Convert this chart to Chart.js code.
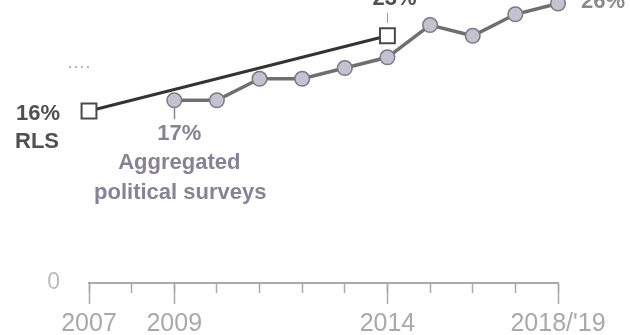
<!DOCTYPE html>
<html>
<head>
<meta charset="utf-8">
<script src="https://cdn.jsdelivr.net/npm/chart.js@4.4.1/dist/chart.umd.min.js"></script>
<style>
html,body{margin:0;padding:0;background:#fff;}
#wrap{width:630px;height:335px;position:relative;}
</style>
</head>
<body>
<div id="wrap"><canvas id="c" width="630" height="335"></canvas></div>
<script>
// ---- data ----
const years = [2007, 2008, 2009, 2010, 2011, 2012, 2013, 2014, 2015, 2016, 2017, 2018];
const tickLabelYears = [2007, 2009, 2014, 2018];
const tickLabelTexts = ['2007', '2009', '2014', "2018/'19"];
const rlsYears = [2007, 2014];
const rlsValues = [16, 23];
const aggYears = [2009, 2010, 2011, 2012, 2013, 2014, 2015, 2016, 2017, 2018];
const aggValues = [17, 17, 19, 19, 20, 21, 24, 23, 25, 26];
const yTickLabels = ['0'];

const FONT = "'Liberation Sans', Arial, sans-serif";
const AGG_TEXT = '#878294';
const RLS_TEXT = '#505050';

const annotations = {
  id: 'annotations',
  afterDraw(chart) {
    const ctx = chart.ctx;
    const x = chart.scales.x, y = chart.scales.y;
    const area = chart.chartArea;
    ctx.save();
    // longer ticks for labelled years
    ctx.strokeStyle = '#aaaaaa';
    ctx.lineWidth = 1.5;
    tickLabelYears.forEach(yr => {
      const px = Math.round(x.getPixelForValue(yr)) + 0.5;
      ctx.beginPath();
      ctx.moveTo(px, area.bottom);
      ctx.lineTo(px, area.bottom + 21);
      ctx.stroke();
    });

    ctx.textAlign = 'center';
    ctx.textBaseline = 'middle';
    ctx.font = 'bold 22px ' + FONT;

    // RLS labels
    const r0y = y.getPixelForValue(rlsValues[0]);
    ctx.fillStyle = RLS_TEXT;
    ctx.textAlign = 'left';
    ctx.fillText(rlsValues[0] + '%', 16, r0y + 3);
    ctx.fillText('RLS', 15, r0y + 31);

    ctx.textAlign = 'center';
    const r1x = x.getPixelForValue(rlsYears[1]);
    const r1y = y.getPixelForValue(rlsValues[1]);
    ctx.fillText(rlsValues[1] + '%', r1x + 7, r1y - 37);
    ctx.strokeStyle = '#999999';
    ctx.lineWidth = 1;
    ctx.beginPath();
    ctx.moveTo(Math.round(r1x) + 0.5, r1y - 23);
    ctx.lineTo(Math.round(r1x) + 0.5, r1y - 13);
    ctx.stroke();

    // Aggregated labels
    const a0x = x.getPixelForValue(aggYears[0]);
    const a0y = y.getPixelForValue(aggValues[0]);
    ctx.fillStyle = AGG_TEXT;
    ctx.fillText(aggValues[0] + '%', a0x + 5, a0y + 34);
    ctx.font = 'bold 22px ' + FONT;
    ctx.fillText('Aggregated', a0x + 5, a0y + 63);
    ctx.fillText('political surveys', a0x + 6, a0y + 93);
    ctx.strokeStyle = AGG_TEXT;
    ctx.lineWidth = 1.5;
    ctx.beginPath();
    ctx.moveTo(Math.round(a0x) + 0.5, a0y + 7);
    ctx.lineTo(Math.round(a0x) + 0.5, a0y + 19);
    ctx.stroke();

    const aLx = x.getPixelForValue(aggYears[aggYears.length - 1]);
    const aLy = y.getPixelForValue(aggValues[aggValues.length - 1]);
    ctx.font = 'bold 22px ' + FONT;
    ctx.fillStyle = '#8a8a8a';
    ctx.fillText(aggValues[aggValues.length - 1] + '%', aLx + 45, aLy - 2);

    // small dotted mark
    ctx.fillStyle = '#b5b5b5';
    for (let i = 0; i < 4; i++) {
      ctx.fillRect(69 + i * 6, 66, 2, 2);
    }
    ctx.restore();
  }
};

new Chart(document.getElementById('c'), {
  type: 'line',
  data: {
    datasets: [
      {
        label: 'RLS',
        data: rlsYears.map((yr, i) => ({x: yr, y: rlsValues[i]})),
        borderColor: '#333333',
        borderWidth: 3,
        pointStyle: 'rect',
        pointRadius: 10.5,
        pointBackgroundColor: '#ffffff',
        pointBorderColor: '#4a4a4a',
        pointBorderWidth: 2,
        clip: false,
        order: 0
      },
      {
        label: 'Aggregated political surveys',
        data: aggYears.map((yr, i) => ({x: yr, y: aggValues[i]})),
        borderColor: '#6f6f6f',
        borderWidth: 3.5,
        pointStyle: 'circle',
        pointRadius: 7.3,
        pointBackgroundColor: '#c4c2ce',
        pointBorderColor: '#7c7987',
        pointBorderWidth: 1.5,
        clip: false,
        order: 1
      }
    ]
  },
  options: {
    responsive: false,
    devicePixelRatio: 1,
    animation: false,
    layout: {autoPadding: false, padding: {top: 0, right: 72, left: 0, bottom: 0}},
    plugins: {legend: {display: false}, tooltip: {enabled: false}},
    scales: {
      x: {
        type: 'linear',
        min: years[0],
        max: years[years.length - 1],
        afterFit: s => { s.height = 52; s.paddingTop = 0; s.paddingBottom = 0; },
        afterBuildTicks: s => { s.ticks = years.map(v => ({value: v})); },
        border: {display: true, color: '#aaaaaa', width: 2},
        grid: {display: true, drawOnChartArea: false, drawTicks: true, tickLength: 10, tickColor: '#aaaaaa', tickWidth: 1.5, color: '#aaaaaa'},
        ticks: {
          autoSkip: false,
          maxRotation: 0,
          padding: 16,
          color: '#a9a9a9',
          font: {size: 25, family: FONT},
          callback: v => { const i = tickLabelYears.indexOf(v); return i >= 0 ? tickLabelTexts[i] : ''; }
        }
      },
      y: {
        min: 0,
        max: 26.33,
        afterFit: s => { s.width = 89; s.paddingTop = 0; s.paddingBottom = 0; },
        afterBuildTicks: s => { s.ticks = [{value: 0}]; },
        border: {display: false},
        grid: {display: false},
        ticks: {
          padding: 21,
          color: '#bbbbbb',
          font: {size: 23, family: FONT},
          callback: (v, i) => yTickLabels[i]
        }
      }
    }
  },
  plugins: [annotations]
});
</script>
</body>
</html>
